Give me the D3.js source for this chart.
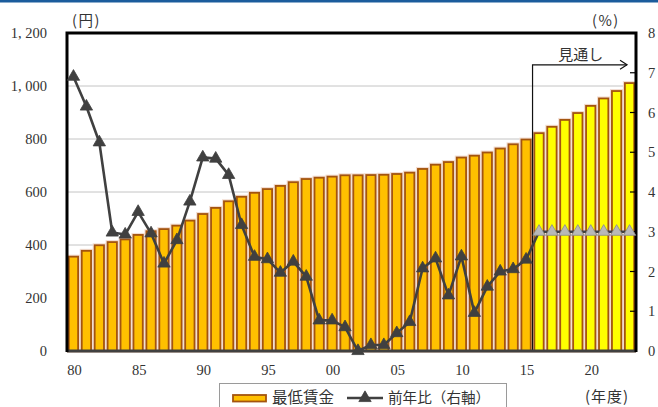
<!DOCTYPE html>
<html>
<head>
<meta charset="utf-8">
<script src="https://cdn.jsdelivr.net/npm/d3@7"></script>
<style>
  html, body { margin: 0; padding: 0; background: #fff; }
  svg { display: block; }
</style>
</head>
<body>
<svg id="chart" width="658" height="407"></svg>
<script>
// Fiscal years (1980–2023); 2016 onward is the projected period
const years = [1980,1981,1982,1983,1984,1985,1986,1987,1988,1989,
               1990,1991,1992,1993,1994,1995,1996,1997,1998,1999,
               2000,2001,2002,2003,2004,2005,2006,2007,2008,2009,
               2010,2011,2012,2013,2014,2015,2016,2017,2018,2019,
               2020,2021,2022,2023];

// Minimum wage, weighted national average (yen per hour)
const minWage = [356,378,399,411,421,438,452,460,473,492,
                 517,540,565,582,597,611,623,637,649,654,
                 658,663,663,664,665,668,673,687,703,713,
                 730,737,749,764,780,798,822,846,872,898,
                 925,953,981,1011];

// Year-on-year change (%), right axis
const yoyChange = [6.9,6.15,5.25,2.98,2.93,3.5,2.96,2.2,2.79,3.76,
                   4.87,4.84,4.43,3.17,2.37,2.31,1.97,2.25,1.87,0.77,
                   0.77,0.6,0,0.15,0.15,0.45,0.73,2.08,2.33,1.4,
                   2.38,0.96,1.62,2.0,2.06,2.3,3,3,3,3,
                   3,3,3,3];

const projectionStart = 2016;

// Axis ticks
const leftTicks = [0,200,400,600,800,1000,1200];
const rightTicks = [0,1,2,3,4,5,6,7,8];
const xTickYears = [1980,1985,1990,1995,2000,2005,2010,2015,2020];
const xTickLabels = ["80","85","90","95","00","05","10","15","20"];

const svg = d3.select("#chart");
const plot = { left: 67, right: 636, top: 33, bottom: 351 };
const numFont = "'Liberation Serif', 'DejaVu Serif', serif";
const jpFont = "'Noto Sans CJK JP', 'Noto Sans', sans-serif";

// header rule
svg.append("rect").attr("x", 0).attr("y", 0).attr("width", 658).attr("height", 2.5)
  .attr("fill", "#1b5c9c");

const x = d3.scaleBand().domain(years).range([plot.left, plot.right])
  .paddingInner(0.28).paddingOuter(0.14);
const cx = d => x(d) + x.bandwidth() / 2;
const yL = d3.scaleLinear().domain([0, 1200]).range([plot.bottom, plot.top]);
const yR = d3.scaleLinear().domain([0, 8]).range([plot.bottom, plot.top]);

// gridlines from the left axis
svg.append("g").selectAll("line").data(leftTicks.filter(t => t > 0 && t < 1200)).join("line")
  .attr("x1", plot.left).attr("x2", plot.right)
  .attr("y1", d => yL(d)).attr("y2", d => yL(d))
  .attr("stroke", "#c4c4c4").attr("stroke-width", 1);

// bars: soft halo underneath, then the bar itself
const barData = years.map((yr, i) => ({ yr, v: minWage[i] }));
const bars = svg.append("g");
bars.selectAll("rect.halo").data(barData).join("rect").attr("class", "halo")
  .attr("x", d => x(d.yr)).attr("width", x.bandwidth())
  .attr("y", d => yL(d.v)).attr("height", d => yL(0) - yL(d.v))
  .attr("fill", "none").attr("stroke", "#f2dcd0").attr("stroke-width", 4);
bars.selectAll("rect.bar").data(barData).join("rect").attr("class", "bar")
  .attr("x", d => x(d.yr)).attr("width", x.bandwidth())
  .attr("y", d => yL(d.v)).attr("height", d => yL(0) - yL(d.v))
  .attr("fill", d => d.yr >= projectionStart ? "#ffff00" : "#ffc000")
  .attr("stroke", "#a3540f").attr("stroke-width", 1.8);

// projection marker: vertical rule and arrow
const splitX = (x(projectionStart - 1) + x.bandwidth() + x(projectionStart)) / 2;
const arrowY = yR(7.2);
const arrowEnd = cx(2023) - 2.5;
const ann = svg.append("g").attr("stroke", "#111").attr("stroke-width", 1.2).attr("fill", "none");
ann.append("path").attr("d", `M${splitX},${plot.bottom} V${arrowY} H${arrowEnd}`);
ann.append("path").attr("d", `M${arrowEnd - 7},${arrowY - 4.5} L${arrowEnd},${arrowY} L${arrowEnd - 7},${arrowY + 4.5}`);
svg.append("text").attr("x", (splitX + arrowEnd) / 2 + 1).attr("y", arrowY - 11)
  .attr("text-anchor", "middle").attr("dominant-baseline", "central")
  .attr("font-family", jpFont).attr("font-size", 15).attr("fill", "#333")
  .text("見通し");

// frame
svg.append("line").attr("x1", plot.left).attr("x2", plot.right).attr("y1", plot.bottom).attr("y2", plot.bottom)
  .attr("stroke", "#404040").attr("stroke-width", 3);
const frame = svg.append("g").attr("stroke", "#000").attr("stroke-width", 3).attr("fill", "none");
frame.append("path").attr("d", `M${plot.left},${plot.bottom + 1} V${plot.top} H${plot.right} V${plot.bottom + 1}`);

// inward ticks on the right axis
svg.append("g").selectAll("line").data(rightTicks.filter(t => t > 0 && t < 8)).join("line")
  .attr("x1", plot.right - 6).attr("x2", plot.right)
  .attr("y1", d => yR(d)).attr("y2", d => yR(d))
  .attr("stroke", "#000").attr("stroke-width", 1.2);

// year-on-year line with triangle markers
const line = d3.line().x((d, i) => cx(years[i])).y(d => yR(d));
svg.append("path").datum(yoyChange).attr("d", line)
  .attr("fill", "none").attr("stroke", "#404040").attr("stroke-width", 2.6)
  .attr("stroke-linejoin", "round");
const tri = d3.symbol().type(d3.symbolTriangle).size(66);
svg.append("g").selectAll("path").data(years.map((yr, i) => ({ yr, v: yoyChange[i] }))).join("path")
  .attr("d", tri)
  .attr("transform", d => `translate(${cx(d.yr)},${yR(d.v)})`)
  .attr("fill", d => d.yr >= projectionStart ? "#b8b8b8" : "#404040")
  .attr("stroke", d => d.yr >= projectionStart ? "#8a8a8a" : "#404040")
  .attr("stroke-width", 0.8);

// axis labels
const fmt = d => d3.format(",")(d).replace(",", ", ");
svg.append("g").selectAll("text").data(leftTicks).join("text")
  .attr("x", 47).attr("y", d => yL(d)).attr("dy", "0.35em")
  .attr("text-anchor", "end").attr("font-family", numFont).attr("font-size", 14.5).attr("fill", "#333")
  .text(fmt);
svg.append("g").selectAll("text").data(rightTicks).join("text")
  .attr("x", 648).attr("y", d => yR(d)).attr("dy", "0.35em")
  .attr("text-anchor", "start").attr("font-family", numFont).attr("font-size", 14.5).attr("fill", "#333")
  .text(d => d);
svg.append("g").selectAll("text").data(xTickYears).join("text")
  .attr("x", d => cx(d) + 1).attr("y", 370).attr("dy", "0.35em")
  .attr("text-anchor", "middle").attr("font-family", numFont).attr("font-size", 14.5).attr("fill", "#333")
  .text((d, i) => xTickLabels[i]);

// units
svg.append("text").attr("x", 72).attr("y", 21).attr("dy", "0.35em")
  .attr("font-family", jpFont).attr("font-size", 14.5).attr("letter-spacing", 1.5).attr("fill", "#333").text("(円)");
svg.append("text").attr("x", 592).attr("y", 21).attr("dy", "0.35em")
  .attr("font-family", jpFont).attr("font-size", 14.5).attr("letter-spacing", 1.5).attr("fill", "#333").text("(%)");
svg.append("text").attr("x", 585).attr("y", 397).attr("dy", "0.35em")
  .attr("font-family", jpFont).attr("font-size", 15).attr("letter-spacing", 1).attr("fill", "#333").text("(年度)");

// legend
const lg = svg.append("g");
lg.append("rect").attr("x", 219.5).attr("y", 383.5).attr("width", 287).attr("height", 30)
  .attr("fill", "#fff").attr("stroke", "#9a9a9a").attr("stroke-width", 1);
lg.append("rect").attr("x", 233).attr("y", 395).attr("width", 33).attr("height", 6.5)
  .attr("fill", "#ffc000").attr("stroke", "#a3540f").attr("stroke-width", 1.8);
lg.append("text").attr("x", 272).attr("y", 398).attr("dy", "0.35em")
  .attr("font-family", jpFont).attr("font-size", 15.5).attr("fill", "#333").text("最低賃金");
lg.append("line").attr("x1", 347).attr("x2", 383).attr("y1", 398).attr("y2", 398)
  .attr("stroke", "#404040").attr("stroke-width", 2.6);
lg.append("path").attr("d", tri).attr("transform", "translate(365,398)")
  .attr("fill", "#404040").attr("stroke", "#404040").attr("stroke-width", 0.8);
lg.append("text").attr("x", 388).attr("y", 398).attr("dy", "0.35em")
  .attr("font-family", jpFont).attr("font-size", 14.6).attr("fill", "#333").text("前年比（右軸）");
</script>
</body>
</html>
